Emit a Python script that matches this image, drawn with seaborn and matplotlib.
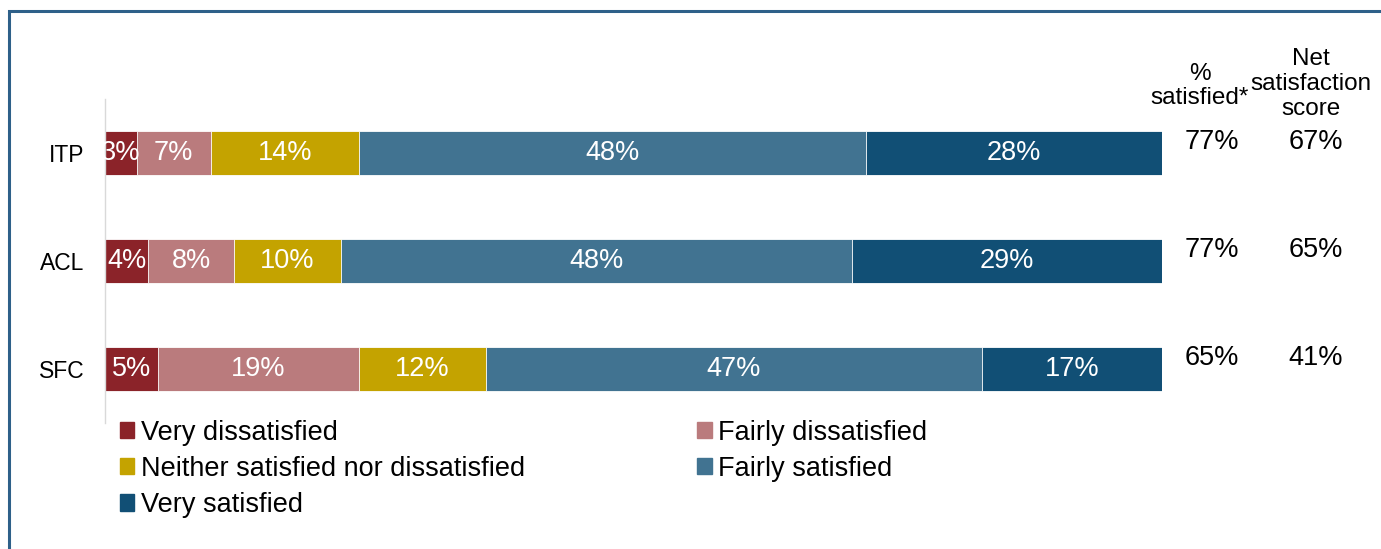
import matplotlib
matplotlib.use("Agg")
import matplotlib.pyplot as plt
import matplotlib.patches as mpatches
import numpy as np
import pandas as pd
import seaborn as sns

# data
groups = ["ITP", "ACL", "SFC"]
levels = ["Very dissatisfied", "Fairly dissatisfied",
          "Neither satisfied nor dissatisfied", "Fairly satisfied", "Very satisfied"]
very_dissatisfied = [3.0, 4.1, 5.0]
fairly_dissatisfied = [7.0, 8.1, 19.0]
neither = [14.0, 10.1, 12.0]
fairly_satisfied = [48.0, 48.4, 47.0]
very_satisfied = [28.0, 29.3, 17.0]
seg_labels = [["3%", "7%", "14%", "48%", "28%"],
              ["4%", "8%", "10%", "48%", "29%"],
              ["5%", "19%", "12%", "47%", "17%"]]
pct_satisfied = ["77%", "77%", "65%"]
net_score = ["67%", "65%", "41%"]

colors = ["#8B2329", "#BA7B7D", "#C4A300", "#417391", "#114F75"]

sns.set_theme(style="white")
plt.rcParams["font.family"] = ["Liberation Sans", "DejaVu Sans"]
plt.rcParams["text.color"] = "black"
plt.rcParams["ytick.color"] = "black"

df = pd.DataFrame({"group": groups,
                   levels[0]: very_dissatisfied,
                   levels[1]: fairly_dissatisfied,
                   levels[2]: neither,
                   levels[3]: fairly_satisfied,
                   levels[4]: very_satisfied})
cum = df[levels].cumsum(axis=1)

fig = plt.figure(figsize=(13.81, 5.49), dpi=100)
ax = fig.add_axes([105 / 1381, 1 - 423 / 549, (1162 - 105) / 1381, 324 / 549])

# stacked bars: draw cumulative totals from the outermost segment inwards
for i in range(len(levels) - 1, -1, -1):
    sns.barplot(x=cum[levels[i]], y=df["group"], color=colors[i], orient="h",
                width=0.407, ax=ax, edgecolor="white", linewidth=0.6, saturation=1)

for r in range(len(groups)):
    left = 0
    for i, lev in enumerate(levels):
        w = df.loc[r, lev]
        ax.text(left + w / 2, r, seg_labels[r][i], ha="center", va="center",
                color="white", fontsize=19.5)
        left += w

ax.set_xlim(0, 100)
ax.set_ylim(2.5, -0.5)
ax.set_xlabel("")
ax.set_ylabel("")
ax.set_xticks([])
ax.tick_params(axis="y", length=0, pad=15, labelsize=16.5, labelcolor="black")
for s in ["top", "right", "bottom"]:
    ax.spines[s].set_visible(False)
ax.spines["left"].set_color("#D9D9D9")
ax.spines["left"].set_linewidth(1)

# table columns on the right
trans = matplotlib.transforms.blended_transform_factory(fig.transFigure, ax.transData)
x1 = 1212 / 1381
x2 = 1316 / 1381
for r in range(len(groups)):
    ax.text(x1, r - 0.1, pct_satisfied[r], transform=trans, ha="center", va="center",
            fontsize=19.5, color="black")
    ax.text(x2, r - 0.1, net_score[r], transform=trans, ha="center", va="center",
            fontsize=19.5, color="black")
fig.text(1200 / 1381, 1 - 86 / 549, "%\nsatisfied*", ha="center", va="center", fontsize=17.5,
         linespacing=1.1)
fig.text(1311 / 1381, 1 - 84 / 549, "Net\nsatisfaction\nscore", ha="center", va="center",
         fontsize=17.5, linespacing=1.17)

# legend, row-wise order
handles = [mpatches.Patch(color=c, label=l) for c, l in zip(colors, levels)]
order = [0, 2, 4, 1, 3]
fig.legend([handles[i] for i in order], [levels[i] for i in order],
           loc="upper left", bbox_to_anchor=(106 / 1381, 1 - 406 / 549), ncol=2,
           frameon=False, fontsize=19.5, handlelength=0.55, handleheight=0.55,
           handletextpad=0.25, columnspacing=6.33, labelspacing=0.38, borderpad=0)

# outer frame
frame = mpatches.Rectangle((9 / 1381, -0.1), 2, 1 - 11 / 549 + 0.1, transform=fig.transFigure,
                           fill=False, edgecolor="#2E6089", linewidth=2.2)
fig.add_artist(frame)

fig.savefig("out.png", dpi=100)
